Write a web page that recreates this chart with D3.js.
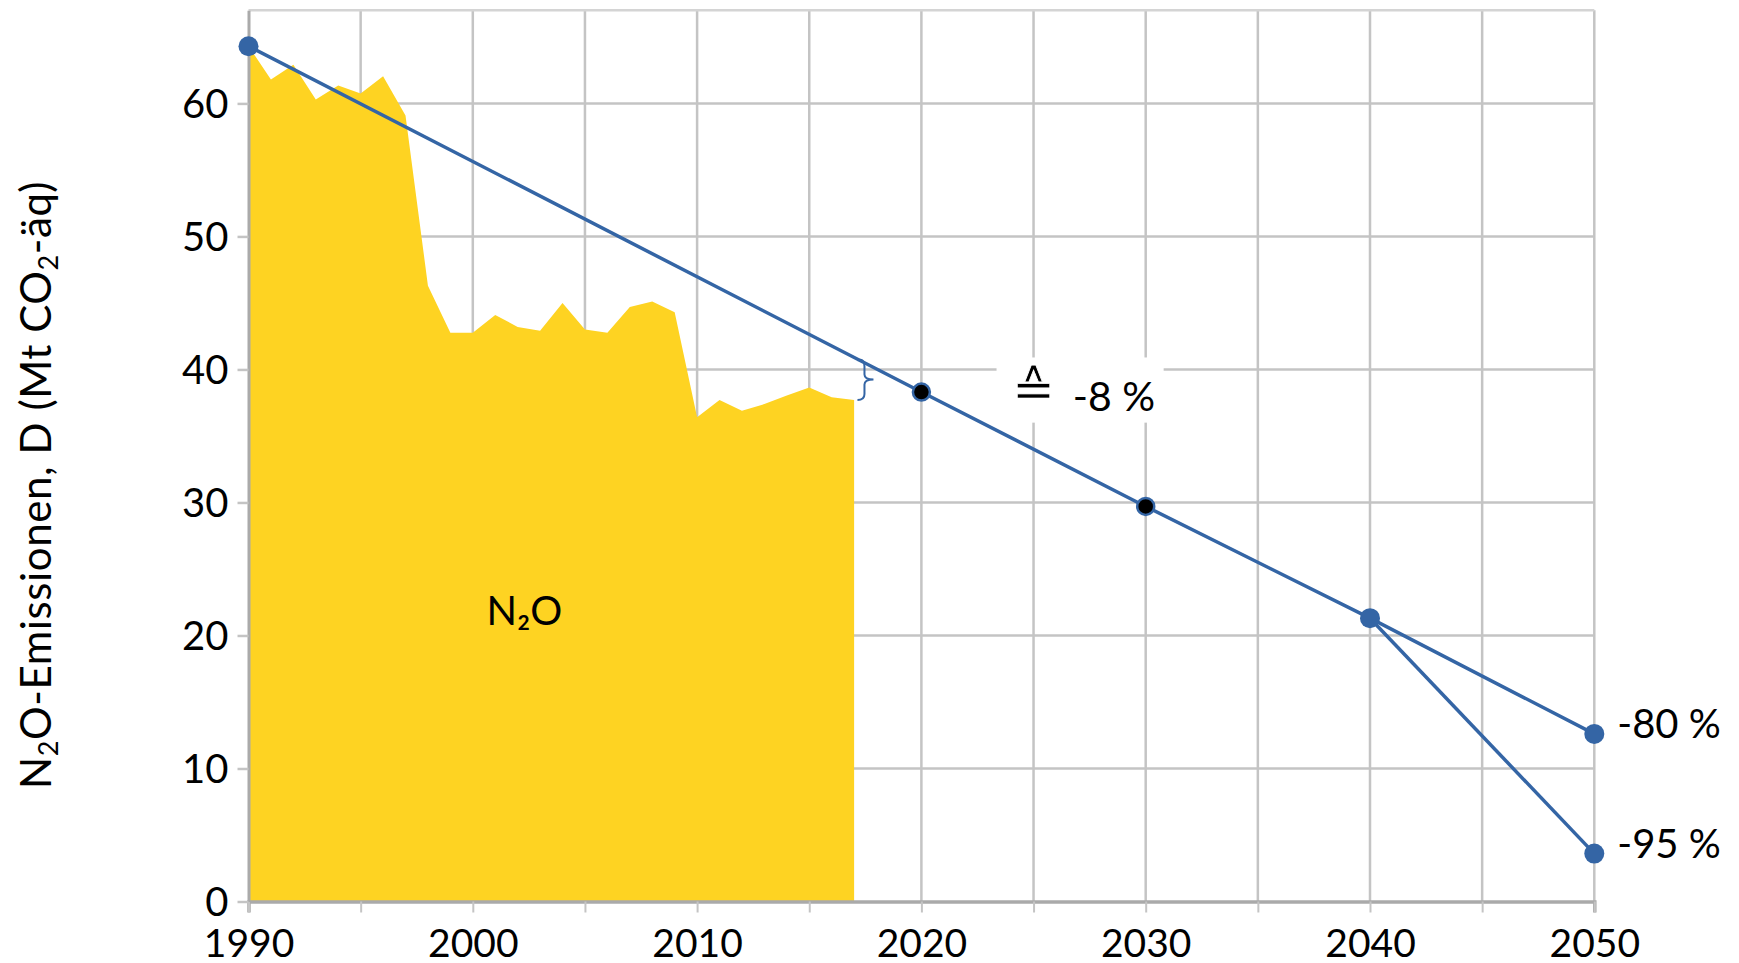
<!DOCTYPE html>
<html>
<head>
<meta charset="utf-8">
<script src="https://cdn.jsdelivr.net/npm/d3@7"></script>
<style>
  body { margin: 0; background: #fff; }
  svg { display: block; font-family: Lato, "DejaVu Sans", sans-serif; }
</style>
</head>
<body>
<div id="chart"></div>
<script>
// ── Data ─────────────────────────────────────────────────────────────────
const years = [1990, 1991, 1992, 1993, 1994, 1995, 1996, 1997, 1998, 1999,
  2000, 2001, 2002, 2003, 2004, 2005, 2006, 2007, 2008, 2009,
  2010, 2011, 2012, 2013, 2014, 2015, 2016, 2017];
const n2oValues = [64.3, 61.8, 62.9, 60.3, 61.35, 60.75, 62.05, 59.1, 46.3, 42.75,
  42.75, 44.1, 43.2, 42.9, 45.0, 43.0, 42.75, 44.7, 45.1, 44.3,
  36.4, 37.7, 36.9, 37.4, 38.05, 38.65, 37.9, 37.7];

const targetYears = [1990, 2020, 2030, 2040, 2050];
const target80 = [64.3, 38.3, 29.7, 21.3, 12.6];
const branchYears = [2040, 2050];
const target95 = [21.3, 3.6];
const blackDotYears = [2020, 2030];

const xTicks = [1990, 2000, 2010, 2020, 2030, 2040, 2050];
const xMinorTicks = d3.range(1990, 2051, 5);
const yTicks = [0, 10, 20, 30, 40, 50, 60];
const yMax = 67;

const gapLabel = "-8 %";
const endLabels = ["-80 %", "-95 %"];
const areaLabel = "N₂O";

// ── Colours ──────────────────────────────────────────────────────────────
const YELLOW = "#fed322";
const BLUE = "#3465a5";
const GRID = "#c4c4c4";
const AXIS = "#aaaaaa";

// ── SVG ──────────────────────────────────────────────────────────────────
const W = 1739, H = 963;
const svg = d3.select("#chart").append("svg")
  .attr("width", W).attr("height", H);

const x = d3.scaleLinear().domain([1990, 2050]).range([248.5, 1594.3]);
const y = d3.scaleLinear().domain([0, yMax]).range([901.5, 10.3]);

// ── Grid ─────────────────────────────────────────────────────────────────
const grid = svg.append("g").attr("class", "grid");
grid.selectAll(".vgrid")
  .data(xMinorTicks.filter((d) => d > 1990))
  .join("line")
  .attr("x1", (d) => x(d)).attr("x2", (d) => x(d))
  .attr("y1", y(yMax)).attr("y2", y(0))
  .attr("stroke", GRID).attr("stroke-width", 2.5);
grid.selectAll(".hgrid")
  .data(yTicks.filter((d) => d > 0).concat([yMax]))
  .join("line")
  .attr("x1", x(1990)).attr("x2", x(2050))
  .attr("y1", (d) => y(d)).attr("y2", (d) => y(d))
  .attr("stroke", (d) => (d === yMax ? "#d4d4d4" : GRID))
  .attr("stroke-width", 2.5);

// ── Area ─────────────────────────────────────────────────────────────────
const area = d3.area()
  .x((d, i) => x(years[i]))
  .y0(y(0))
  .y1((d) => y(d));
svg.append("path")
  .datum(n2oValues)
  .attr("d", area)
  .attr("fill", YELLOW);

svg.append("text")
  .attr("x", x(2002.3)).attr("y", y(20.8))
  .attr("text-anchor", "middle")
  .style("font-size", "40px")
  .text(areaLabel);

// ── Axes ─────────────────────────────────────────────────────────────────
const xAxis = svg.append("g")
  .attr("transform", `translate(0,${y(0)})`)
  .call(d3.axisBottom(x).tickValues(xMinorTicks).tickSize(11)
    .tickFormat((d) => (xTicks.includes(d) ? d : "")));
xAxis.select(".domain").attr("stroke", AXIS).attr("stroke-width", 3.5);
xAxis.selectAll(".tick line").attr("stroke", GRID).attr("stroke-width", 2);
xAxis.selectAll(".tick text")
  .attr("y", 55).attr("dy", 0)
  .attr("fill", "#000")
  .style("font-size", "39px")
  .style("font-family", "Lato, sans-serif");

const yAxis = svg.append("g")
  .attr("transform", `translate(${x(1990)},0)`)
  .call(d3.axisLeft(y).tickValues(yTicks).tickSize(11).tickSizeOuter(0));
yAxis.select(".domain").attr("stroke", AXIS).attr("stroke-width", 3);
yAxis.selectAll(".tick line").attr("stroke", GRID).attr("stroke-width", 2.5);
yAxis.selectAll(".tick text")
  .attr("x", -20).attr("dy", "0.34em")
  .attr("fill", "#000")
  .style("font-size", "40px")
  .style("font-family", "Lato, sans-serif");

// ── Y axis label ─────────────────────────────────────────────────────────
const yLabel = svg.append("text")
  .attr("transform", `translate(51,${(y(0) + y(yMax)) / 2 + 29}) rotate(-90)`)
  .attr("text-anchor", "middle")
  .style("font-size", "42px")
  .style("letter-spacing", "0.6px");
yLabel.append("tspan").text("N");
yLabel.append("tspan").attr("dy", 7).style("font-size", "27px").text("2");
yLabel.append("tspan").attr("dy", -7).text("O-Emissionen, D (Mt CO");
yLabel.append("tspan").attr("dy", 7).style("font-size", "27px").text("2");
yLabel.append("tspan").attr("dy", -7).text("-äq)");

// ── Gap annotation ───────────────────────────────────────────────────────
svg.append("rect")
  .attr("x", x(2023.35)).attr("y", y(40.9))
  .attr("width", x(2030.8) - x(2023.35))
  .attr("height", y(36.0) - y(40.9))
  .attr("fill", "#fff");
svg.append("text")
  .attr("x", x(2025)).attr("y", y(37.2))
  .attr("text-anchor", "middle")
  .style("font-size", "52px")
  .style("font-family", "DejaVu Sans, sans-serif")
  .attr("stroke", "#fff")
  .attr("stroke-width", 0.8)
  .text("≙");
svg.append("text")
  .attr("x", x(2026.75)).attr("y", y(36.9))
  .style("font-size", "41px")
  .text(gapLabel);

// brace between trend line and last inventory value
const lineAt2017 = target80[0] + (target80[1] - target80[0]) * (2017.15 - 1990) / 30;
const bx = x(2017.15), bt = y(lineAt2017), bb = y(n2oValues[n2oValues.length - 1]);
const bm = (bt + bb) / 2;
svg.append("path")
  .attr("d", `M${bx},${bt + 1} Q${bx + 7},${bt - 1} ${bx + 7},${bt + 7}
    L${bx + 7},${bm - 5} Q${bx + 7},${bm} ${bx + 16},${bm}
    Q${bx + 7},${bm} ${bx + 7},${bm + 5} L${bx + 7},${bb - 6}
    Q${bx + 7},${bb} ${bx},${bb}`)
  .attr("fill", "none")
  .attr("stroke", BLUE)
  .attr("stroke-width", 2);

// ── Target lines ─────────────────────────────────────────────────────────
const line = d3.line().x((d) => x(d[0])).y((d) => y(d[1]));
svg.append("path")
  .datum(targetYears.map((yr, i) => [yr, target80[i]]))
  .attr("d", line)
  .attr("fill", "none").attr("stroke", BLUE).attr("stroke-width", 3.5);
svg.append("path")
  .datum(branchYears.map((yr, i) => [yr, target95[i]]))
  .attr("d", line)
  .attr("fill", "none").attr("stroke", BLUE).attr("stroke-width", 3.5);

const dots = targetYears.map((yr, i) => [yr, target80[i]])
  .concat([[branchYears[1], target95[1]]]);
svg.selectAll(".dot")
  .data(dots)
  .join("circle")
  .attr("class", "dot")
  .attr("cx", (d) => x(d[0]))
  .attr("cy", (d) => y(d[1]))
  .attr("r", (d) => (blackDotYears.includes(d[0]) ? 8.5 : 10))
  .attr("fill", (d) => (blackDotYears.includes(d[0]) ? "#000" : BLUE))
  .attr("stroke", BLUE)
  .attr("stroke-width", (d) => (blackDotYears.includes(d[0]) ? 2.5 : 0));

// ── End labels ───────────────────────────────────────────────────────────
svg.selectAll(".end-label")
  .data([target80[target80.length - 1], target95[1]])
  .join("text")
  .attr("class", "end-label")
  .attr("x", x(2050) + 23)
  .attr("y", (d) => y(d) + 4)
  .style("font-size", "40px")
  .text((d, i) => endLabels[i]);
</script>
</body>
</html>
